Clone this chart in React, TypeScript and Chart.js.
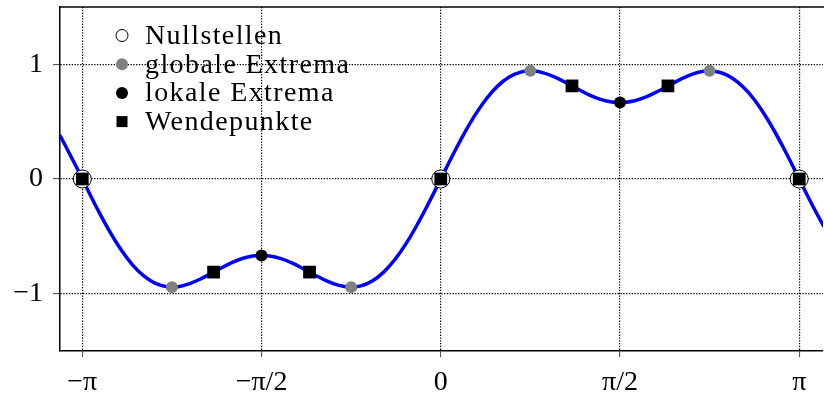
import React, { useEffect, useRef } from "react";
import { Chart, registerables } from "chart.js";

Chart.register(...registerables);

// Curve samples
const curveX = [
  -3.34, -3.3, -3.2, -3.1, -3.0, -2.9, -2.8, -2.7, -2.6, -2.5, -2.4, -2.3, -2.2, -2.1, -2.0,
  -1.9, -1.8, -1.7, -1.6, -1.5, -1.4, -1.3, -1.2, -1.1, -1.0, -0.9, -0.8, -0.7, -0.6, -0.5,
  -0.4, -0.3, -0.2, -0.1, 0.0, 0.1, 0.2, 0.3, 0.4, 0.5, 0.6, 0.7, 0.8, 0.9, 1.0, 1.1, 1.2,
  1.3, 1.4, 1.5, 1.6, 1.7, 1.8, 1.9, 2.0, 2.1, 2.2, 2.3, 2.4, 2.5, 2.6, 2.7, 2.8, 2.9, 3.0,
  3.1, 3.2, 3.3, 3.36,
];
const curveY = [
  0.383, 0.31, 0.117, -0.083, -0.279, -0.46, -0.62, -0.751, -0.848, -0.911, -0.94, -0.939,
  -0.912, -0.869, -0.816, -0.763, -0.716, -0.683, -0.668, -0.672, -0.695, -0.734, -0.785,
  -0.839, -0.889, -0.926, -0.943, -0.932, -0.889, -0.812, -0.7, -0.557, -0.387, -0.198, 0.0,
  0.198, 0.387, 0.557, 0.7, 0.812, 0.889, 0.932, 0.943, 0.926, 0.889, 0.839, 0.785, 0.734,
  0.695, 0.672, 0.668, 0.683, 0.716, 0.763, 0.816, 0.869, 0.912, 0.939, 0.94, 0.911, 0.848,
  0.751, 0.62, 0.46, 0.279, 0.083, -0.117, -0.31, -0.418,
];

const zerosX = [-3.1416, 0, 3.1416];
const zerosY = [0, 0, 0];
const globalX = [-2.356, -0.785, 0.785, 2.356];
const globalY = [-0.943, -0.943, 0.943, 0.943];
const localX = [-1.571, 1.571];
const localY = [-0.667, 0.667];
const inflX = [-3.1416, -1.991, -1.15, 0, 1.15, 1.991, 3.1416];
const inflY = [0, -0.812, -0.812, 0, 0.812, 0.812, 0];

const xTickValues = [-3.1416, -1.5708, 0, 1.5708, 3.1416];
const xTickLabels = ["\u2212\u03c0", "\u2212\u03c0/2", "0", "\u03c0/2", "\u03c0"];
const yTickValues = [-1, 0, 1];
const yTickLabels = ["\u22121", "0", "1"];

const legendLabels = ["Nullstellen", "globale Extrema", "lokale Extrema", "Wendepunkte"];

const SERIF = "'Liberation Serif', 'DejaVu Serif', serif";

const pts = (xs: number[], ys: number[]) => xs.map((x, i) => ({ x, y: ys[i] }));

const zeroPad = (s: any) => {
  s.paddingTop = 0;
  s.paddingBottom = 0;
  s.paddingLeft = 0;
  s.paddingRight = 0;
};

const framePlugin = {
  id: "frameAndLegend",
  afterDatasetsDraw(chart: any) {
    const { ctx, chartArea } = chart;
    ctx.save();
    ctx.strokeStyle = "#000";
    ctx.lineWidth = 1.5;
    ctx.beginPath();
    ctx.moveTo(chartArea.left - 0.75, chartArea.top);
    ctx.lineTo(chart.width, chartArea.top);
    ctx.stroke();
    ctx.restore();
  },
  afterDraw(chart: any) {
    const { ctx, chartArea } = chart;
    ctx.save();
    const symX = chartArea.left + 62;
    const textX = chartArea.left + 85;
    const y0 = chartArea.top + 28.5;
    const dy = 28.7;
    ctx.font = `28px ${SERIF}`;
    try {
      (ctx as any).letterSpacing = "1.4px";
    } catch (e) {}
    ctx.textBaseline = "middle";
    ctx.textAlign = "left";
    legendLabels.forEach((label, i) => {
      const y = y0 + i * dy;
      ctx.lineWidth = 1;
      if (i === 0) {
        ctx.beginPath();
        ctx.arc(symX, y, 6, 0, Math.PI * 2);
        ctx.fillStyle = "#fff";
        ctx.fill();
        ctx.strokeStyle = "#000";
        ctx.stroke();
      } else if (i === 1 || i === 2) {
        ctx.beginPath();
        ctx.arc(symX, y, 6, 0, Math.PI * 2);
        ctx.fillStyle = i === 1 ? "#808080" : "#000";
        ctx.fill();
      } else {
        ctx.fillStyle = "#000";
        ctx.fillRect(symX - 5.5, y - 5.5, 11, 11);
      }
      ctx.fillStyle = "#000";
      ctx.fillText(label, textX, y + 1);
    });
    ctx.restore();
  },
};

export default function App() {
  const ref = useRef<HTMLCanvasElement>(null);
  useEffect(() => {
    if (!ref.current) return;
    const chart = new Chart(ref.current, {
      type: "line",
      data: {
        datasets: [
          {
            label: "Wendepunkte",
            type: "scatter",
            data: pts(inflX, inflY),
            pointStyle: "rect",
            pointRadius: 9,
            backgroundColor: "#000",
            borderColor: "#000",
            borderWidth: 0,
            order: 1,
          } as any,
          {
            label: "lokale Extrema",
            type: "scatter",
            data: pts(localX, localY),
            pointStyle: "circle",
            pointRadius: 6,
            backgroundColor: "#000",
            borderColor: "#000",
            borderWidth: 0,
            order: 2,
          },
          {
            label: "globale Extrema",
            type: "scatter",
            data: pts(globalX, globalY),
            pointStyle: "circle",
            pointRadius: 6,
            backgroundColor: "#808080",
            borderColor: "#808080",
            borderWidth: 0,
            order: 3,
          },
          {
            label: "Nullstellen",
            type: "scatter",
            data: pts(zerosX, zerosY),
            pointStyle: "circle",
            pointRadius: 9,
            backgroundColor: "#fff",
            borderColor: "#000",
            borderWidth: 1,
            order: 4,
          },
          {
            label: "f",
            data: pts(curveX, curveY),
            borderColor: "#0000ff",
            borderWidth: 3.5,
            pointRadius: 0,
            tension: 0.4,
            fill: false,
            order: 10,
          },
        ],
      },
      options: {
        responsive: false,
        animation: false,
        layout: { autoPadding: false, padding: { top: 7, right: 1, left: 0, bottom: 0 } },
        plugins: {
          legend: { display: false },
          tooltip: { enabled: false },
        },
        scales: {
          x: {
            type: "linear",
            min: -3.337,
            max: 3.35,
            afterBuildTicks: (s: any) => {
              s.ticks = xTickValues.map((v) => ({ value: v }));
            },
            afterFit: (s: any) => {
              s.height = 48;
              zeroPad(s);
            },
            ticks: {
              autoSkip: false,
              maxRotation: 0,
              padding: 9,
              color: "#000",
              font: { family: SERIF, size: 28 },
              callback: (_v: any, i: number) => xTickLabels[i],
            },
            grid: {
              color: "#000",
              lineWidth: 1.2,
              tickLength: 6,
              tickColor: "#444",
              tickWidth: 1,
              tickBorderDash: [],
              drawOnChartArea: true,
            },
            border: { display: true, color: "#000", width: 1.5, dash: [1.3, 1.5] },
          },
          y: {
            type: "linear",
            min: -1.5,
            max: 1.5,
            afterBuildTicks: (s: any) => {
              s.ticks = yTickValues.map((v) => ({ value: v }));
            },
            afterFit: (s: any) => {
              s.width = 60;
              zeroPad(s);
            },
            ticks: {
              padding: 10,
              color: "#000",
              font: { family: SERIF, size: 28 },
              callback: (_v: any, i: number) => yTickLabels[i],
            },
            grid: {
              color: "#000",
              lineWidth: 1.2,
              tickLength: 7,
              tickColor: "#444",
              tickWidth: 1,
              tickBorderDash: [],
            },
            border: { display: true, color: "#000", width: 1.5, dash: [1.3, 1.5] },
          },
        },
      },
      plugins: [framePlugin],
    });
    return () => chart.destroy();
  }, []);
  return (
    <div style={{ position: "absolute", left: 0, top: 0, width: 824, height: 399, background: "#fff" }}>
      <canvas ref={ref} width={824} height={399} />
    </div>
  );
}
